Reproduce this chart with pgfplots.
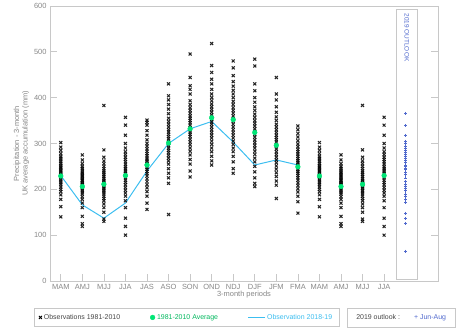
\documentclass[border=0pt]{standalone}
\usepackage{pgfplots}
\pgfplotsset{compat=1.18}
\usepackage{pgfplotstable}
\usepackage{fontspec}
\setmainfont{Liberation Sans}
\definecolor{avggreen}{RGB}{0,230,118}
\definecolor{obscyan}{RGB}{60,190,240}
\definecolor{outblue}{RGB}{80,105,205}
\definecolor{axgray}{RGB}{200,200,200}
\definecolor{txtgray}{RGB}{135,135,135}
\definecolor{dgray}{RGB}{70,70,70}

\pgfplotstableread{
MAM AMJ MJJ JJA JAS ASO SON OND NDJ DJF JFM FMA
140 119 130 100 156 145 227 253 235 206 180 148
162 125 135 119 170 213 240 262 245 213 209 173
178 141 150 137 185 225 255 272 260 225 218 185
188 160 160 160 195 235 265 282 272 238 228 194
195 170 168 175 203 245 275 290 282 250 236 201
200 178 175 185 210 255 283 298 290 260 244 208
205 184 180 192 217 262 290 305 298 268 251 214
210 190 185 198 223 268 297 312 305 276 258 220
214 194 190 204 229 274 303 318 312 283 264 225
218 198 194 210 234 280 309 324 318 290 270 230
222 201 198 215 239 285 315 330 324 296 276 235
225 204 202 220 244 290 320 336 330 302 282 239
228 207 205 225 248 295 325 342 336 308 288 243
231 210 208 230 252 300 330 347 342 314 293 247
234 212 211 234 256 305 335 352 348 320 298 251
237 215 214 238 260 310 340 357 354 326 303 255
240 218 217 242 264 315 345 362 360 332 308 259
243 220 220 246 268 320 350 368 366 338 313 263
246 223 224 250 273 325 355 374 372 344 318 267
249 226 228 255 278 330 360 380 378 350 324 272
252 229 232 260 283 336 366 386 385 357 330 277
256 232 236 265 288 342 372 393 392 364 336 282
260 235 240 270 294 348 378 400 400 372 342 287
264 238 245 276 300 355 385 408 408 380 350 293
268 242 250 282 308 365 393 418 416 390 358 299
272 246 256 290 318 375 408 430 425 400 368 306
278 250 262 300 328 385 418 440 435 415 380 314
285 256 270 318 340 395 426 455 448 430 395 322
292 264 286 340 346 404 444 470 465 469 408 330
302 275 383 357 351 430 495 518 480 484 444 338
}\obs

\begin{document}
\begin{tikzpicture}
\begin{axis}[name=ax, scale only axis, width=388bp, height=275bp,
  xmin=-0.5, xmax=17.5, ymin=0, ymax=600,
  xtick={0,...,15},
  xticklabels={MAM,AMJ,MJJ,JJA,JAS,ASO,SON,OND,NDJ,DJF,JFM,FMA,MAM,AMJ,MJJ,JJA},
  xtick pos=bottom,
  ytick={0,100,...,600},
  axis line style={axgray}, tick style={axgray, line width=0.6pt}, major tick length=7bp,
  tick label style={font=\fontsize{7.5}{8}\selectfont, text=txtgray},
  /pgf/number format/assume math mode=true,
  xlabel={3-month periods},
  xlabel style={font=\fontsize{7.5}{8}\selectfont, text=txtgray, yshift=6bp},
  ylabel={Precipitation - 3-month\\UK average accumulation (mm)},
  ylabel style={align=center, font=\fontsize{7.5}{8.5}\selectfont, text=txtgray, yshift=-2bp},
  clip=false,
  legend columns=3,
  legend style={at={(axis description cs:0.352,0)}, anchor=north, yshift=-27bp,
    draw=axgray, font=\fontsize{7}{8}\selectfont, inner ysep=4bp, inner xsep=5bp,
    /tikz/every even column/.append style={column sep=28bp}},
]
\addlegendimage{only marks, mark=x, mark size=2.1pt, draw=black, line width=1pt}
\addlegendentry{\textcolor{dgray}{Observations 1981-2010}}
\addlegendimage{only marks, mark=*, mark size=2.4pt, draw=avggreen, fill=avggreen}
\addlegendentry{\textcolor{avggreen!80!black}{1981-2010 Average}}
\addlegendimage{only marks, mark=-, mark size=8.5bp, draw=obscyan, mark options={draw=obscyan, line width=1.6pt}}
\addlegendentry{\textcolor{obscyan}{Observation 2018-19}}

\pgfplotsset{obs/.style={only marks, mark=x, mark size=2.1pt, black, line width=1.05pt, opacity=0.85, forget plot}}
\addplot[obs] table[x expr=0, y=MAM]{\obs};
\addplot[obs] table[x expr=1, y=AMJ]{\obs};
\addplot[obs] table[x expr=2, y=MJJ]{\obs};
\addplot[obs] table[x expr=3, y=JJA]{\obs};
\addplot[obs] table[x expr=4, y=JAS]{\obs};
\addplot[obs] table[x expr=5, y=ASO]{\obs};
\addplot[obs] table[x expr=6, y=SON]{\obs};
\addplot[obs] table[x expr=7, y=OND]{\obs};
\addplot[obs] table[x expr=8, y=NDJ]{\obs};
\addplot[obs] table[x expr=9, y=DJF]{\obs};
\addplot[obs] table[x expr=10, y=JFM]{\obs};
\addplot[obs] table[x expr=11, y=FMA]{\obs};
\addplot[obs] table[x expr=12, y=MAM]{\obs};
\addplot[obs] table[x expr=13, y=AMJ]{\obs};
\addplot[obs] table[x expr=14, y=MJJ]{\obs};
\addplot[obs] table[x expr=15, y=JJA]{\obs};

\addplot[obscyan, line width=1pt, forget plot] coordinates {
(0,230) (1,166) (2,137) (3,170) (4,240) (5,300) (6,332) (7,348) (8,303) (9,253) (10,264) (11,253)};

\addplot[only marks, mark=*, mark size=2.4pt, avggreen, forget plot] coordinates {
(0,229) (1,206) (2,211) (3,230) (4,253) (5,301) (6,332) (7,356) (8,352) (9,324) (10,296) (11,249)
(12,229) (13,206) (14,211) (15,230)};

\addplot[only marks, mark=+, mark size=1.6pt, outblue, line width=0.5pt, forget plot] coordinates {
(16,366) (16,339) (16,318) (16,305) (16,300) (16,295) (16,290) (16,285) (16,281) (16,276)
(16,272) (16,268) (16,264) (16,258) (16,253) (16,250) (16,246) (16,243) (16,238) (16,233)
(16,225) (16,217) (16,212) (16,207) (16,202) (16,198) (16,190) (16,185) (16,178) (16,172)
(16,148) (16,137) (16,126) (16,65)};

\draw[axgray, line width=0.6pt] (axis cs:15.55,4) rectangle (axis cs:16.55,592);
\node[rotate=-90, anchor=west, font=\fontsize{6.5}{7}\selectfont, text=outblue, inner sep=0pt]
  at (axis cs:16.05,584) {2019 OUTLOOK};
\end{axis}
\node[draw=axgray, anchor=north west, minimum height=19bp, minimum width=108bp, inner xsep=4bp,
  font=\fontsize{7}{8}\selectfont] at ([xshift=-91bp, yshift=-27bp]ax.south east)
  {\textcolor{dgray}{2019 outlook :}\hspace{14bp}\textcolor{outblue}{+ Jun-Aug}};
\path ([shift={(-50bp,-49bp)}]ax.south west) rectangle ([shift={(20bp,5bp)}]ax.north east);
\end{tikzpicture}
\end{document}
